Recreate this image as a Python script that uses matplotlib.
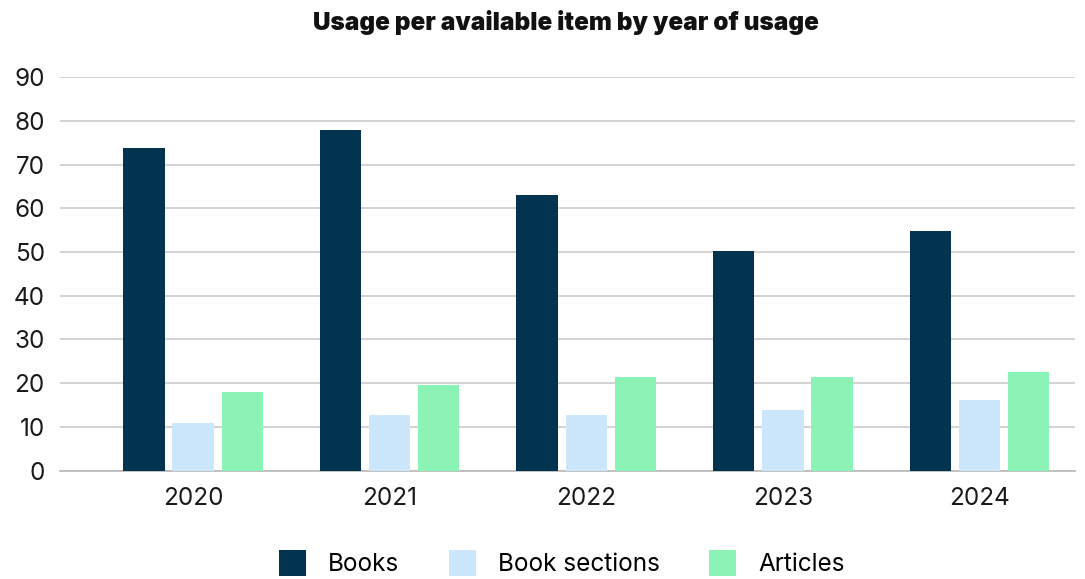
import matplotlib
matplotlib.use('AGG')
import matplotlib.pyplot as plt
import numpy as np

years = ['2020', '2021', '2022', '2023', '2024']
books = [73.8, 77.9, 63.0, 50.2, 54.7]
book_sections = [10.9, 12.8, 12.8, 13.9, 16.2]
articles = [18.0, 19.7, 21.5, 21.5, 22.6]
series_names = ['Books', 'Book sections', 'Articles']
colors = ['#02344f', '#cce6fb', '#8af3b5']


def main():
    plt.rcParams['font.family'] = ['Inter', 'DejaVu Sans']
    fig = plt.figure(figsize=(10.85, 5.79), dpi=100)
    ax = fig.add_axes([0.0553, 0.187, 0.9355, 0.680])

    x = np.arange(len(years))
    width = 0.21
    offsets = [-0.25, 0.0, 0.25]
    for vals, off, col, name in zip([books, book_sections, articles], offsets, colors, series_names):
        ax.bar(x + off, vals, width=width, color=col, label=name, zorder=3)

    ax.set_xlim(-0.677, 4.486)
    ax.set_ylim(0, 90)
    ax.set_yticks(range(0, 91, 10))
    ax.set_xticks(x)
    ax.set_xticklabels(years)
    ax.yaxis.grid(True, color='#d0d0d0', linewidth=1.3, zorder=0)
    ax.tick_params(axis='both', length=0, labelsize=17.5, colors='#1a1a1a')
    ax.tick_params(axis='y', pad=11)
    ax.tick_params(axis='x', pad=12)
    for side in ['top', 'right', 'left']:
        ax.spines[side].set_visible(False)
    ax.spines['bottom'].set_color('#bdbdbd')
    ax.spines['bottom'].set_linewidth(1.3)

    fig.text(0.5217, 0.962, 'Usage per available item by year of usage', ha='center', va='center',
             fontsize=17.5, fontweight='black', color='#111111')

    fig.legend(loc='center', bbox_to_anchor=(0.518, 0.028), ncol=3, frameon=False, fontsize=17.5,
               handlelength=1.1, handleheight=1.3, handletextpad=0.9, columnspacing=2.05)

    fig.savefig('out.png', dpi=100)


if "__main__" in __name__:
    main()
